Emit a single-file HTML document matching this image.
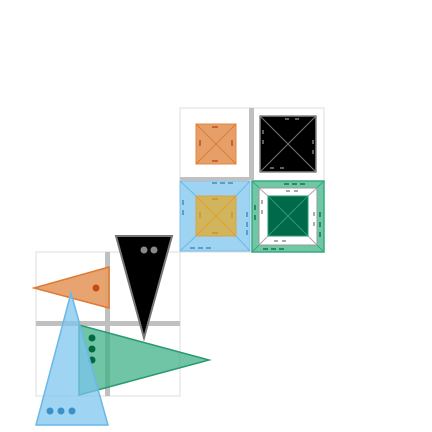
<!DOCTYPE html>
<html><head><meta charset="utf-8"><style>html,body{margin:0;padding:0;background:#fff}svg{display:block}</style></head>
<body>
<svg width="432" height="432" viewBox="0 0 432 432" font-family="Liberation Sans, sans-serif">
<g>
  <rect x="180" y="108" width="144" height="144" fill="#fff" stroke="#ddd" stroke-width="1"/>
  <g>
    <rect x="196" y="124" width="40" height="40" fill="#e69f68" stroke="#e0883a" stroke-width="1"/>
    <path d="M196 124L236 164M236 124L196 164" stroke="#e07a30" stroke-width="1"/>
    <path d="M212 127h6M212 161h6M200 140v6M232 140v6" stroke="#c0501a" stroke-width="1.5"/>
  </g>
  <g>
    <rect x="260" y="116" width="56" height="56" fill="#000" stroke="#888" stroke-width="1.5"/>
    <path d="M260 116L316 172M316 116L260 172" stroke="#777" stroke-width="1"/>
    <path d="M285 119h4M295 119h4M270 168h4M280 168h4M263 130v4M263 140v4M313 140v4M313 150v4" stroke="#999" stroke-width="1.2"/>
  </g>
  <g>
    <rect x="180" y="181" width="70" height="70" fill="#9fd3f2" stroke="#7cc0ea" stroke-width="1"/>
    <path d="M180 181L196 196M250 181L236 196M180 251L196 236M250 251L236 236" stroke="#6fb8e8" stroke-width="1"/>
    <rect x="196" y="196" width="40" height="40" fill="#d1b55c" stroke="#d8a640" stroke-width="1"/>
    <path d="M196 196L236 236M236 196L196 236" stroke="#e0a030" stroke-width="1"/>
    <path d="M212 199h6M212 233h6M200 212v6M232 212v6" stroke="#d08a20" stroke-width="1.2"/>
    <path d="M212 183h5M220 183h5M228 183h5M190 248h5M198 248h5M206 248h5M183 200v5M183 210v5M247 212v5M247 222v5M247 230v5" stroke="#3a90c8" stroke-width="1.5"/>
  </g>
  <g>
    <rect x="252" y="181" width="72" height="71" fill="#6fc7a5" stroke="#3aa87e" stroke-width="1.5"/>
    <path d="M252 181L268 196M324 181L308 196M252 252L268 236M324 252L308 236" stroke="#3aa87e" stroke-width="1"/>
    <rect x="259" y="188" width="58" height="57" fill="#fff" stroke="#999" stroke-width="1"/>
    <path d="M259 188L268 196M317 188L308 196M259 245L268 236M317 245L308 236" stroke="#aaa" stroke-width="1"/>
    <rect x="268" y="196" width="40" height="40" fill="#00694a" stroke="#2a9a70" stroke-width="1"/>
    <path d="M268 196L308 236M308 196L268 236" stroke="#2a9a70" stroke-width="1"/>
    <path d="M284 184h5M292 184h5M300 184h5M263 249h5M271 249h5M279 249h5M255 205v5M255 215v5M320 212v5M320 222v5M320 232v5" stroke="#0a7a50" stroke-width="1.5"/>
    <path d="M286 191h4M294 191h4M274 241h4M282 241h4M262 200v4M262 210v4M314 212v4M314 222v4" stroke="#777" stroke-width="1.2"/>
  </g>
  <rect x="249" y="108" width="5" height="72" fill="#c0c0c0"/>
  <rect x="180" y="177" width="69" height="4" fill="#c0c0c0"/>
</g>
<g>
  <rect x="36" y="252" width="144" height="144" fill="#fff" stroke="#ddd" stroke-width="1"/>
  <rect x="105" y="252" width="5" height="144" fill="#c0c0c0"/>
  <rect x="36" y="321" width="144" height="5" fill="#c0c0c0"/>
  <g>
    <polygon points="34,288 109,267 109,308" fill="#e69f68" fill-opacity="0.95" stroke="#e07a30" stroke-width="1.5"/>
    <circle cx="96" cy="288" r="3.5" fill="#c84a10"/>
  </g>
  <g>
    <polygon points="116,236 172,236 144,338" fill="#000" stroke="#777" stroke-width="2"/>
    <circle cx="144" cy="250" r="3.5" fill="#888"/><circle cx="154" cy="250" r="3.5" fill="#888"/>
  </g>
  <g>
    <polygon points="79,325 209,360 79,395" fill="#3aaf85" fill-opacity="0.72" stroke="#2a9a70" stroke-width="1.5"/>
    <circle cx="92" cy="338" r="3.5" fill="#00693f"/><circle cx="92" cy="349" r="3.5" fill="#00693f"/><circle cx="92" cy="360" r="3.5" fill="#00693f"/>
  </g>
  <g>
    <polygon points="71,293 36,425 108,425" fill="#7cc4ee" fill-opacity="0.72" stroke="#6ab8e8" stroke-width="1.5"/>
    <circle cx="50" cy="411" r="3.5" fill="#3a90c8"/><circle cx="61" cy="411" r="3.5" fill="#3a90c8"/><circle cx="72" cy="411" r="3.5" fill="#3a90c8"/>
  </g>
</g>
</svg>
</body></html>
